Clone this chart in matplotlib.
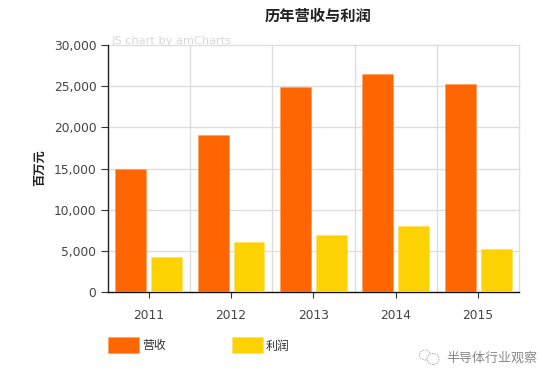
import matplotlib; matplotlib.use('Agg')

import matplotlib.pyplot as plt
from matplotlib.patches import Ellipse, Rectangle
import numpy as np

plt.rcParams['font.family'] = ['Noto Sans CJK SC', 'DejaVu Sans']

years = ["2011", "2012", "2013", "2014", "2015"]
revenue = [15000, 19100, 24900, 26500, 25300]
profit = [4300, 6100, 6900, 8000, 5300]
y_ticks = [0, 5000, 10000, 15000, 20000, 25000, 30000]

W, H = 554, 383
ORANGE = "#FF6600"
YELLOW = "#FCD202"
GRID = "#DEDEDE"
TICK = "#444444"

fig = plt.figure(figsize=(W / 100, H / 100), dpi=100)
ax = fig.add_axes([107.5 / W, 1 - 292.3 / H, 411.8 / W, 247.3 / H])

x = np.arange(len(years))
ax.bar(x - 0.218, revenue, width=0.376, color=ORANGE, edgecolor="#FF9A55", linewidth=0.4, zorder=3)
ax.bar(x + 0.218, profit, width=0.376, color=YELLOW, edgecolor="#FDE060", linewidth=0.4, zorder=3)

ax.set_xlim(-0.5, 4.5)
ax.set_ylim(0, 30000)
ax.set_yticks(y_ticks)
ax.set_yticklabels(["{:,}".format(v) for v in y_ticks], fontsize=8.8, color=TICK, family="DejaVu Sans")
ax.set_xticks(x)
ax.set_xticklabels(years, fontsize=8.8, color=TICK, family="DejaVu Sans")
ax.tick_params(axis='y', length=5, width=0.8, color="#333333", pad=3)
ax.tick_params(axis='x', length=4, width=0.8, color="#333333", pad=8)

# gridlines sit between the categories
for v in y_ticks[1:]:
    ax.axhline(v, color=GRID, linewidth=1.0, zorder=1, clip_on=False)
for b in np.arange(0.5, 5, 1):
    ax.axvline(b, color=GRID, linewidth=1.0, zorder=1, clip_on=False)

for s in ['top', 'right']:
    ax.spines[s].set_visible(False)
ax.spines['left'].set_linewidth(1.0)
ax.spines['left'].set_color("#222222")
ax.spines['bottom'].set_linewidth(1.0)
ax.spines['bottom'].set_color("#111111")

fig.text(318.5 / W, 1 - 16 / H, "历年营收与利润", fontsize=11, fontweight='bold', color="#222222",
         ha='center', va='center')
fig.text(40 / W, 1 - 168 / H, "百万元", fontsize=8.8, fontweight='bold', color="#222222",
         rotation=90, ha='center', va='center')
fig.text(112 / W, 1 - 41 / H, "JS chart by amCharts", fontsize=8.2, color="#D8D8D8",
         ha='left', va='center', family="DejaVu Sans", zorder=5)

# legend
fig.add_artist(Rectangle((108 / W, 1 - 353 / H), 31 / W, 16 / H, transform=fig.transFigure,
                         facecolor=ORANGE, edgecolor="#FF9A55", linewidth=0.4))
fig.add_artist(Rectangle((232 / W, 1 - 353 / H), 31 / W, 16 / H, transform=fig.transFigure,
                         facecolor=YELLOW, edgecolor="#FDE060", linewidth=0.4))
fig.text(142 / W, 1 - 346 / H, "营收", fontsize=8.6, color="#333333", ha='left', va='center')
fig.text(266 / W, 1 - 346 / H, "利润", fontsize=8.6, color="#333333", ha='left', va='center')

# wechat watermark
fig.add_artist(Ellipse((425 / W, 1 - 355 / H), 11 / W, 10 / H, transform=fig.transFigure,
                       facecolor="none", edgecolor="#AAAAAA", linewidth=0.6, linestyle=(0, (2, 1))))
fig.add_artist(Ellipse((433 / W, 1 - 359 / H), 12 / W, 11 / H, transform=fig.transFigure,
                       facecolor="white", edgecolor="#AAAAAA", linewidth=0.6, linestyle=(0, (2, 1))))
fig.text(446 / W, 1 - 358 / H, "半导体行业观察", fontsize=9.4, color="#8A8A8A", ha='left', va='center')

plt.savefig("out.png", dpi=100)
